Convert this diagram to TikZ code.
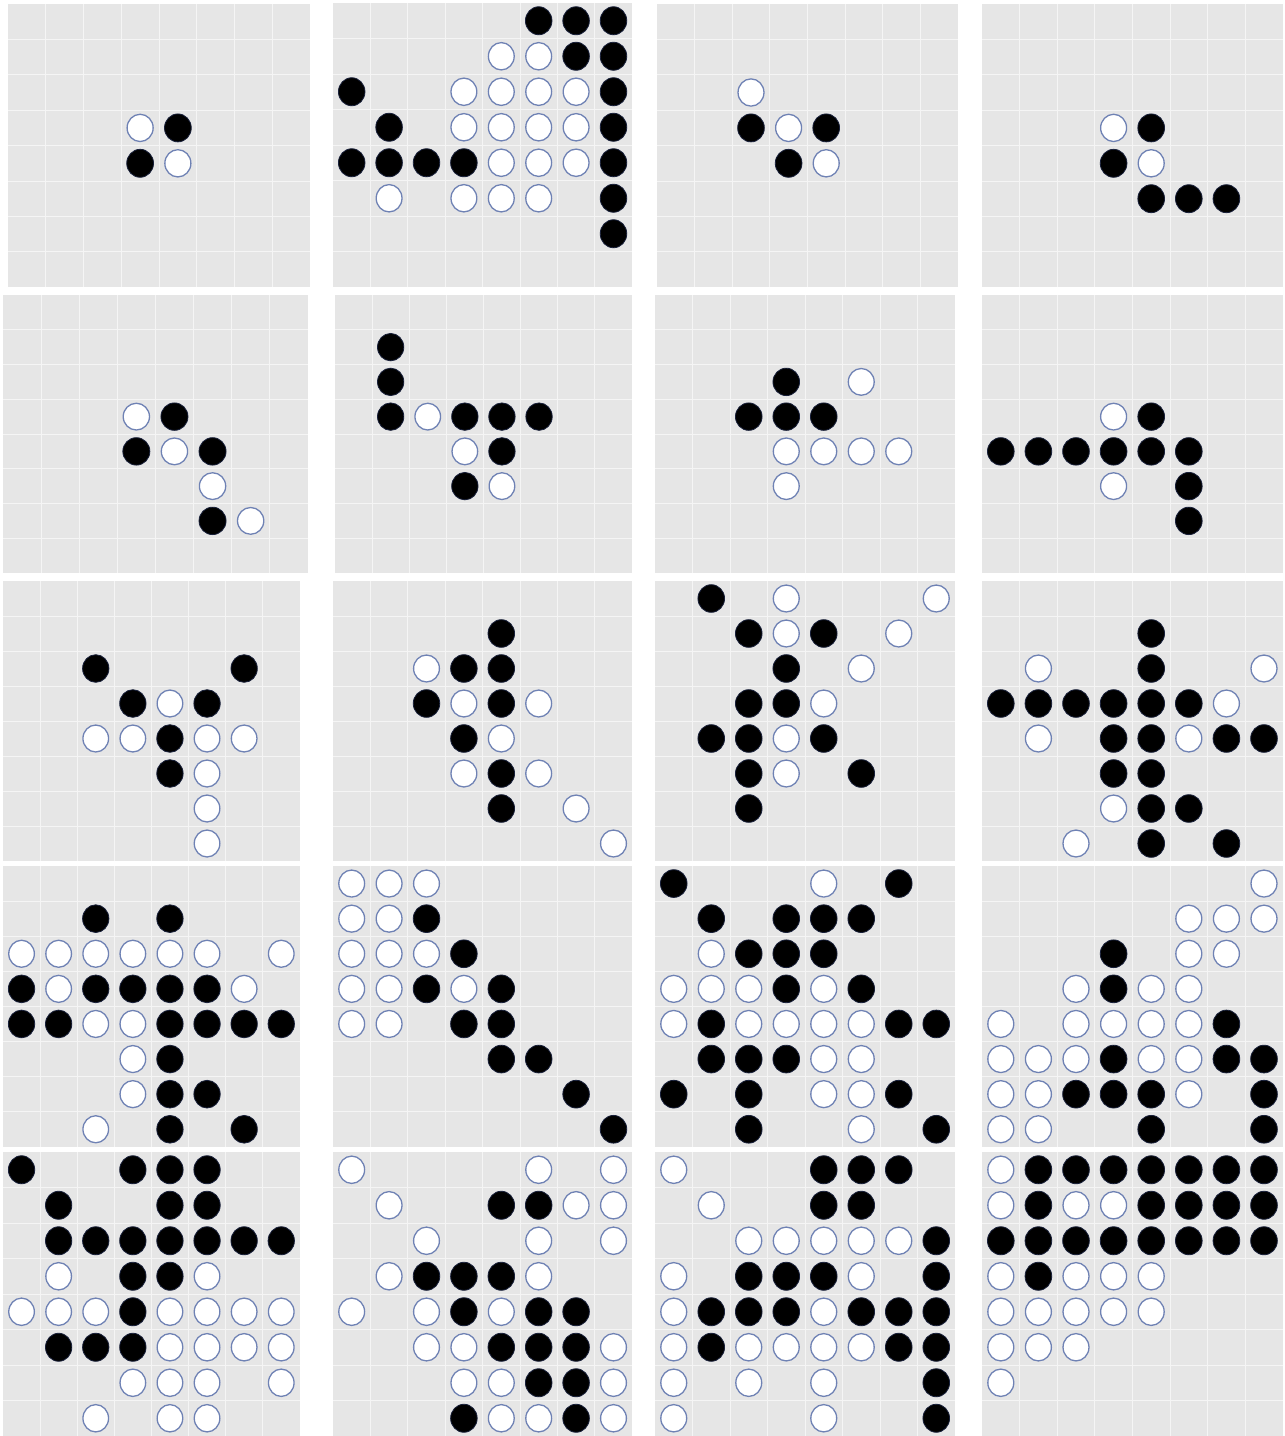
\documentclass[tikz,border=0pt]{standalone}
\definecolor{boardbg}{HTML}{E6E6E6}
\definecolor{gridc}{HTML}{F5F5F5}
\definecolor{wedge}{HTML}{6F82B4}
\definecolor{bedge}{HTML}{18203A}
\tikzset{
  bpiece/.style={fill=black, draw=bedge, line width=0.8pt},
  wpiece/.style={fill=white, draw=wedge, line width=1.3pt},
  boardbox/.style={fill=boardbg},
  gridline/.style={draw=gridc, line width=1pt},
  boardat/.style n args={4}{shift={(#1,#2)}, xscale=#3, yscale=#4}
}
\newcommand\pc[2]{%
  \if#2B\filldraw[bpiece] (#1+.5,\currow+.5) ellipse [x radius=.355, y radius=.395];\fi
  \if#2W\filldraw[wpiece] (#1+.5,\currow+.5) ellipse [x radius=.345, y radius=.385];\fi}
\def\bcells#1#2#3#4#5#6#7#8{\pc{0}{#1}\pc{1}{#2}\pc{2}{#3}\pc{3}{#4}\pc{4}{#5}\pc{5}{#6}\pc{6}{#7}\pc{7}{#8}}
\newcommand\brow[2]{\def\currow{#1}\bcells#2}
\newcommand\brows[8]{%
  \fill[boardbox] (0,0) rectangle (8,8);
  \foreach \k in {1,...,7} {
    \draw[gridline] (\k,0) -- (\k,8);
    \draw[gridline] (0,\k) -- (8,\k);
  }
  \brow{0}{#1}\brow{1}{#2}\brow{2}{#3}\brow{3}{#4}%
  \brow{4}{#5}\brow{5}{#6}\brow{6}{#7}\brow{7}{#8}}
\begin{document}
\begin{tikzpicture}[x=1pt, y=-1pt]
\fill[white] (0,0) rectangle (1285,1436);
\useasboundingbox (0,0) rectangle (1285,1436);
% ---------- row 1 ----------
\begin{scope}[boardat={8}{4}{37.75}{35.4}]
\brows{........}{........}{........}{...WB...}{...BW...}{........}{........}{........}
\end{scope}
\begin{scope}[boardat={333}{3}{37.4}{35.5}]
\brows{.....BBB}{....WWBB}{B..WWWWB}{.B.WWWWB}{BBBBWWWB}{.W.WWW.B}{.......B}{........}
\end{scope}
\begin{scope}[boardat={657}{4}{37.6}{35.4}]
\brows{........}{........}{..W.....}{..BWB...}{...BW...}{........}{........}{........}
\end{scope}
\begin{scope}[boardat={982}{4}{37.6}{35.4}]
\brows{........}{........}{........}{...WB...}{...BW...}{....BBB.}{........}{........}
\end{scope}
% ---------- row 2 ----------
\begin{scope}[boardat={3}{295}{38.1}{34.75}]
\brows{........}{........}{........}{...WB...}{...BWB..}{.....W..}{.....BW.}{........}
\end{scope}
\begin{scope}[boardat={335}{295}{37.1}{34.75}]
\brows{........}{.B......}{.B......}{.BWBBB..}{...WB...}{...BW...}{........}{........}
\end{scope}
\begin{scope}[boardat={655}{295}{37.5}{34.75}]
\brows{........}{........}{...B.W..}{..BBB...}{...WWWW.}{...W....}{........}{........}
\end{scope}
\begin{scope}[boardat={982}{295}{37.6}{34.75}]
\brows{........}{........}{........}{...WB...}{BBBBBB..}{...W.B..}{.....B..}{........}
\end{scope}
% ---------- row 3 ----------
\begin{scope}[boardat={3}{581}{37.1}{35}]
\brows{........}{........}{..B...B.}{...BWB..}{..WWBWW.}{....BW..}{.....W..}{.....W..}
\end{scope}
\begin{scope}[boardat={333}{581}{37.4}{35}]
\brows{........}{....B...}{..WBB...}{..BWBW..}{...BW...}{...WBW..}{....B.W.}{.......W}
\end{scope}
\begin{scope}[boardat={655}{581}{37.5}{35}]
\brows{.B.W...W}{..BWB.W.}{...B.W..}{..BBW...}{.BBWB...}{..BW.B..}{..B.....}{........}
\end{scope}
\begin{scope}[boardat={982}{581}{37.6}{35}]
\brows{........}{....B...}{.W..B..W}{BBBBBBW.}{.W.BBWBB}{...BB...}{...WBB..}{..W.B.B.}
\end{scope}
% ---------- row 4 ----------
\begin{scope}[boardat={3}{866}{37.1}{35.1}]
\brows{........}{..B.B...}{WWWWWW.W}{BWBBBBW.}{BBWWBBBB}{...WB...}{...WBB..}{..W.B.B.}
\end{scope}
\begin{scope}[boardat={333}{866}{37.4}{35.1}]
\brows{WWW.....}{WWB.....}{WWWB....}{WWBWB...}{WW.BB...}{....BB..}{......B.}{.......B}
\end{scope}
\begin{scope}[boardat={655}{866}{37.5}{35.1}]
\brows{B...W.B.}{.B.BBB..}{.WBBB...}{WWWBWB..}{WBWWWWBB}{.BBBWW..}{B.B.WWB.}{..B..W.B}
\end{scope}
\begin{scope}[boardat={982}{866}{37.6}{35.1}]
\brows{.......W}{.....WWW}{...B.WW.}{..WBWW..}{W.WWWWB.}{WWWBWWBB}{WWBBBW.B}{WW..B..B}
\end{scope}
% ---------- row 5 ----------
\begin{scope}[boardat={3}{1152}{37.1}{35.5}]
\brows{B..BBB..}{.B..BB..}{.BBBBBBB}{.W.BBW..}{WWWBWWWW}{.BBBWWWW}{...WWW.W}{..W.WW..}
\end{scope}
\begin{scope}[boardat={333}{1152}{37.4}{35.5}]
\brows{W....W.W}{.W..BBWW}{..W..W.W}{.WBBBW..}{W.WBWBB.}{..WWBBBW}{...WWBBW}{...BWWBW}
\end{scope}
\begin{scope}[boardat={655}{1152}{37.5}{35.5}]
\brows{W...BBB.}{.W..BB..}{..WWWWWB}{W.BBBW.B}{WBBBWBBB}{WBWWWWBB}{W.W.W..B}{W...W..B}
\end{scope}
\begin{scope}[boardat={982}{1152}{37.6}{35.5}]
\brows{WBBBBBBB}{WBWWBBBB}{BBBBBBBB}{WBWWW...}{WWWWW...}{WWW.....}{W.......}{........}
\end{scope}
\end{tikzpicture}
\end{document}
